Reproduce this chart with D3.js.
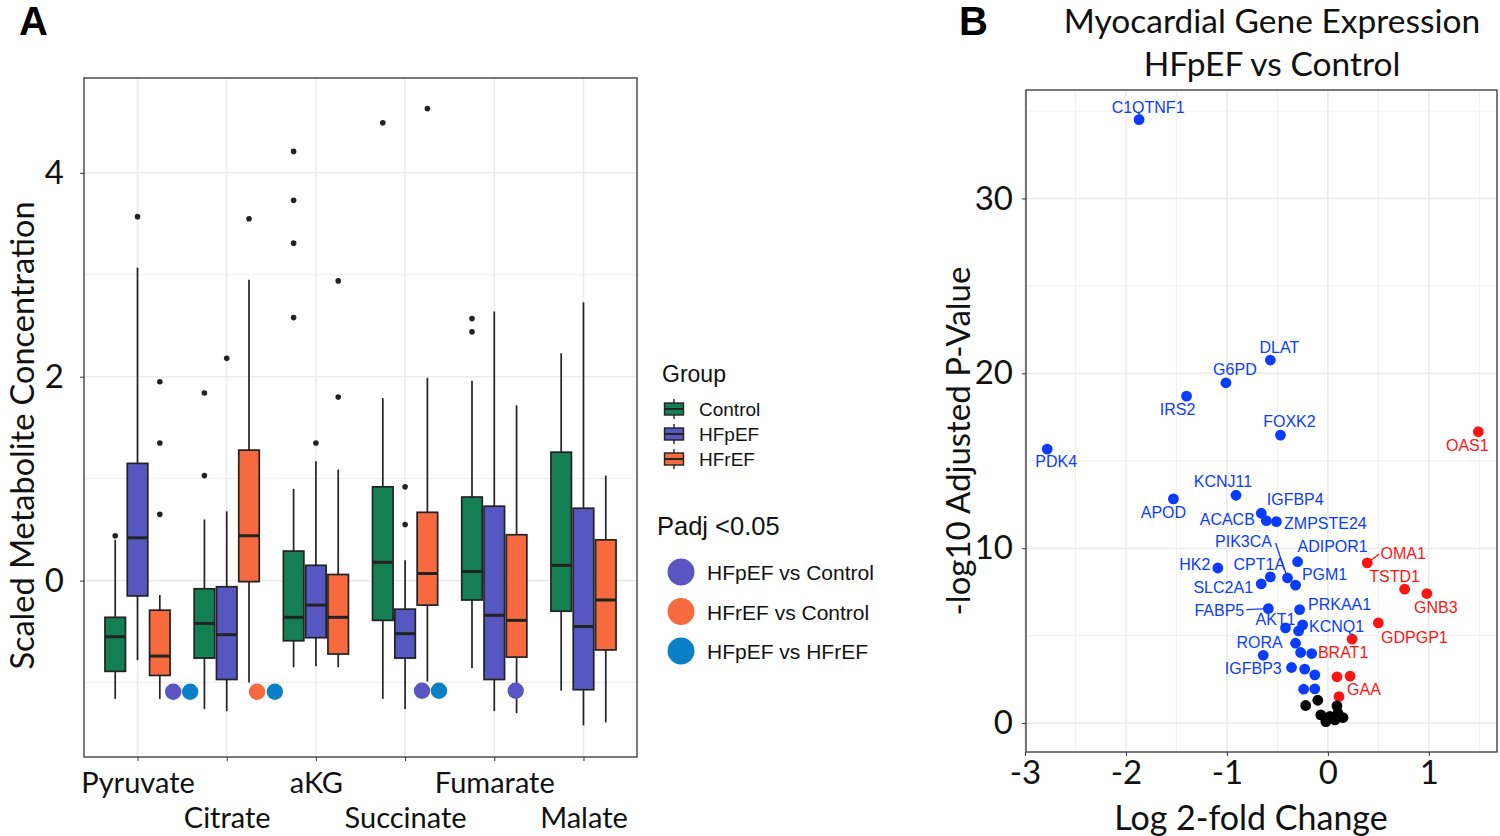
<!DOCTYPE html>
<html>
<head>
<meta charset="utf-8">
<script src="https://cdn.jsdelivr.net/npm/d3@7"></script>
<style>
  body { margin: 0; background: #fff; }
</style>
</head>
<body>
<svg id="fig" width="1500" height="836"></svg>
<script>
// ---- panel A data: scaled metabolite concentration ----
const metabolites = ['Pyruvate', 'Citrate', 'aKG', 'Succinate', 'Fumarate', 'Malate'];
const groups = ['Control', 'HFpEF', 'HFrEF'];
const groupColors = ['#137f52', '#5757c1', '#f76a40'];

// [lower whisker, q1, median, q3, upper whisker], one row per metabolite
const controlStats = [
	[-1.16, -0.89, -0.55, -0.36, 0.40],
	[-1.26, -0.76, -0.42, -0.08, 0.60],
	[-0.85, -0.59, -0.36, 0.29, 0.90],
	[-1.16, -0.39, 0.18, 0.92, 1.79],
	[-0.86, -0.19, 0.09, 0.82, 1.96],
	[-1.08, -0.30, 0.15, 1.26, 2.23],
];
const hfpefStats = [
	[-0.78, -0.15, 0.42, 1.15, 3.07],
	[-1.28, -0.97, -0.53, -0.06, 0.68],
	[-0.84, -0.56, -0.24, 0.15, 1.17],
	[-1.26, -0.76, -0.52, -0.28, 0.20],
	[-1.28, -0.97, -0.34, 0.73, 2.64],
	[-1.42, -1.07, -0.45, 0.71, 2.73],
];
const hfrefStats = [
	[-1.16, -0.93, -0.74, -0.29, -0.14],
	[-1.00, -0.01, 0.44, 1.28, 2.95],
	[-0.85, -0.72, -0.36, 0.06, 1.09],
	[-0.99, -0.24, 0.07, 0.67, 1.99],
	[-1.30, -0.75, -0.39, 0.45, 1.72],
	[-1.39, -0.68, -0.19, 0.40, 1.03],
];
const controlOutliers = [[0.44], [1.03, 1.84], [2.58, 3.31, 3.73, 4.21], [4.49], [2.44, 2.57], []];
const hfpefOutliers = [[3.57], [2.18], [1.35], [0.55, 0.92], [], []];
const hfrefOutliers = [[0.65, 1.35, 1.95], [3.55], [1.80, 2.94], [4.63], [], []];

const comparisons = ['HFpEF vs Control', 'HFrEF vs Control', 'HFpEF vs HFrEF'];
const comparisonColors = ['#5a55c3', '#f76a40', '#0a80c8'];
// significant comparisons: [metabolite, comparison, x position in category units, value]
const sigMarks = [
	['Pyruvate', 'HFpEF vs Control', 0.40, -1.09],
	['Pyruvate', 'HFpEF vs HFrEF', 0.59, -1.09],
	['Citrate', 'HFrEF vs Control', 0.34, -1.09],
	['Citrate', 'HFpEF vs HFrEF', 0.54, -1.09],
	['Succinate', 'HFpEF vs Control', 0.19, -1.08],
	['Succinate', 'HFpEF vs HFrEF', 0.38, -1.08],
	['Fumarate', 'HFpEF vs Control', 0.24, -1.08],
];
const yTicksA = [0, 2, 4];

// ---- panel B data: volcano plot ----
// [gene, log2 fold change, -log10 adjusted p, status]
const genes = [
	['C1QTNF1', -1.87, 34.51, 'down'],
	['DLAT', -0.57, 20.76, 'down'],
	['G6PD', -1.01, 19.46, 'down'],
	['IRS2', -1.40, 18.70, 'down'],
	['FOXK2', -0.47, 16.47, 'down'],
	['OAS1', 1.49, 16.66, 'up'],
	['PDK4', -2.78, 15.67, 'down'],
	['KCNJ11', -0.91, 13.03, 'down'],
	['APOD', -1.53, 12.82, 'down'],
	['IGFBP4', -0.66, 12.00, 'down'],
	['ACACB', -0.61, 11.58, 'down'],
	['ZMPSTE24', -0.51, 11.52, 'down'],
	['ADIPOR1', -0.30, 9.23, 'down'],
	['OMA1', 0.39, 9.16, 'up'],
	['HK2', -1.09, 8.87, 'down'],
	['CPT1A', -0.57, 8.36, 'down'],
	['SLC2A1', -0.66, 7.96, 'down'],
	['PIK3CA', -0.40, 8.30, 'down'],
	['PGM1', -0.32, 7.89, 'down'],
	['TSTD1', 0.76, 7.66, 'up'],
	['GNB3', 0.98, 7.41, 'up'],
	['FABP5', -0.59, 6.55, 'down'],
	['PRKAA1', -0.28, 6.49, 'down'],
	['GDPGP1', 0.50, 5.73, 'up'],
	['AKT1', -0.42, 5.45, 'down'],
	['KCNQ1', -0.25, 5.62, 'down'],
	['', -0.29, 5.27, 'down'],
	['BRAT1', 0.24, 4.80, 'up'],
	['RORA', -0.32, 4.57, 'down'],
	['', -0.27, 4.04, 'down'],
	['', -0.16, 3.98, 'down'],
	['IGFBP3', -0.64, 3.88, 'down'],
	['', -0.36, 3.18, 'down'],
	['', -0.23, 3.09, 'down'],
	['', -0.13, 2.76, 'down'],
	['', 0.09, 2.65, 'up'],
	['', 0.22, 2.69, 'up'],
	['', -0.24, 1.94, 'down'],
	['', -0.13, 1.96, 'down'],
	['GAA', 0.11, 1.52, 'up'],
	['', -0.10, 1.31, 'ns'],
	['', -0.22, 1.01, 'ns'],
	['', 0.09, 0.99, 'ns'],
	['', -0.07, 0.47, 'ns'],
	['', 0.02, 0.38, 'ns'],
	['', -0.02, 0.09, 'ns'],
	['', 0.07, 0.19, 'ns'],
	['', 0.12, 0.34, 'ns'],
	['', 0.15, 0.32, 'ns'],
	['', 0.10, 0.57, 'ns'],
];
const xTicksB = [-3, -2, -1, 0, 1];
const yTicksB = [0, 10, 20, 30];
const statusColors = { down: '#0a3cff', up: '#ff1414', ns: '#000000' };

// label placement (text centre / baseline offset in px from the point)
const labelOffsets = {
	C1QTNF1: [9, -7], DLAT: [9, -7], G6PD: [9, -8], IRS2: [-9, 19], FOXK2: [9, -8],
	OAS1: [-11, 19], PDK4: [9, 18], KCNJ11: [-13, -8], APOD: [-10, 19], IGFBP4: [34, -8],
	ACACB: [-39, 4], ZMPSTE24: [49, 7], PIK3CA: [-44, -31], ADIPOR1: [35, -10], OMA1: [36, -4],
	HK2: [-23, 2], CPT1A: [-11, -7], SLC2A1: [-38, 9], PGM1: [29, -5], TSTD1: [-10, -7],
	GNB3: [9, 19], FABP5: [-49, 7], PRKAA1: [40, 0], AKT1: [-10, -3], KCNQ1: [34, 7],
	BRAT1: [-9, 19], GDPGP1: [36, 20], RORA: [-36, 5], IGFBP3: [-10, 19], GAA: [25, -2],
};
const labelSegments = { PIK3CA: [-12, -35], FABP5: [-22, 1], OMA1: [12, -9] };

const calibri = 'Lato, "Open Sans", sans-serif';
const arial = '"Liberation Sans", Arial, sans-serif';
const gridColor = '#ebebeb';
const ink = '#222';

const svg = d3.select('#fig');

// panel letters
svg.append('text').attr('x', 19).attr('y', 35).text('A')
	.style('font-family', arial).style('font-weight', 'bold').style('font-size', '40px');
svg.append('text').attr('x', 959).attr('y', 35).text('B')
	.style('font-family', arial).style('font-weight', 'bold').style('font-size', '40px');

// ================= panel A =================
const A = { left: 84, right: 637, top: 78, bottom: 757 };
const xA = d3.scalePoint().domain(metabolites).range([A.left, A.right]).padding(0.6);
const step = xA.step();
const xCat = d3.scaleLinear().domain([0, 1]).range([xA(metabolites[0]), xA(metabolites[0]) + step]);
const dodge = d3.scaleBand().domain(groups).range([-0.375 * step, 0.375 * step]);
const yA = d3.scaleLinear().domain([-1.73, 4.93]).range([A.bottom, A.top]);

const gA = svg.append('g');

// grid
[-1, 1, 3].forEach(v => {
	gA.append('line').attr('x1', A.left).attr('x2', A.right).attr('y1', yA(v)).attr('y2', yA(v))
		.attr('stroke', gridColor).attr('stroke-width', 0.8);
});
yTicksA.forEach(v => {
	gA.append('line').attr('x1', A.left).attr('x2', A.right).attr('y1', yA(v)).attr('y2', yA(v))
		.attr('stroke', gridColor).attr('stroke-width', 1.6);
});
metabolites.forEach(m => {
	gA.append('line').attr('x1', xA(m)).attr('x2', xA(m)).attr('y1', A.top).attr('y2', A.bottom)
		.attr('stroke', gridColor).attr('stroke-width', 1.6);
});

const statsByGroup = [controlStats, hfpefStats, hfrefStats];
const outliersByGroup = [controlOutliers, hfpefOutliers, hfrefOutliers];
const boxW = dodge.bandwidth() * 0.92;

const boxes = [];
groups.forEach((g, gi) => {
	metabolites.forEach((m, mi) => {
		const s = statsByGroup[gi][mi];
		boxes.push({ group: g, gi, metabolite: m, lo: s[0], q1: s[1], med: s[2], q3: s[3], hi: s[4], out: outliersByGroup[gi][mi] });
	});
});

const box = gA.selectAll('.box').data(boxes).enter().append('g').attr('class', 'box')
	.attr('transform', d => `translate(${xA(d.metabolite) + dodge(d.group) + dodge.bandwidth() / 2},0)`);

box.append('line').attr('x1', 0).attr('x2', 0).attr('y1', d => yA(d.hi)).attr('y2', d => yA(d.q3))
	.attr('stroke', ink).attr('stroke-width', 1.7);
box.append('line').attr('x1', 0).attr('x2', 0).attr('y1', d => yA(d.q1)).attr('y2', d => yA(d.lo))
	.attr('stroke', ink).attr('stroke-width', 1.7);
box.append('rect').attr('x', -boxW / 2).attr('width', boxW)
	.attr('y', d => yA(d.q3)).attr('height', d => yA(d.q1) - yA(d.q3))
	.attr('fill', d => groupColors[d.gi]).attr('stroke', ink).attr('stroke-width', 1.7);
box.append('line').attr('x1', -boxW / 2).attr('x2', boxW / 2).attr('y1', d => yA(d.med)).attr('y2', d => yA(d.med))
	.attr('stroke', ink).attr('stroke-width', 3);
box.selectAll('.out').data(d => d.out).enter().append('circle').attr('class', 'out')
	.attr('cx', 0).attr('cy', v => yA(v)).attr('r', 2.8).attr('fill', ink);

// significance markers
gA.selectAll('.sig').data(sigMarks).enter().append('circle').attr('class', 'sig')
	.attr('cx', d => xCat(metabolites.indexOf(d[0]) + d[2]))
	.attr('cy', d => yA(d[3]))
	.attr('r', 8.2)
	.attr('fill', d => comparisonColors[comparisons.indexOf(d[1])]);

// frame
gA.append('rect').attr('x', A.left).attr('y', A.top).attr('width', A.right - A.left).attr('height', A.bottom - A.top)
	.attr('fill', 'none').attr('stroke', '#333').attr('stroke-width', 1.3);

// axes
const yAxisA = gA.append('g').attr('transform', `translate(${A.left},0)`)
	.call(d3.axisLeft(yA).tickValues(yTicksA).tickSize(4).tickPadding(16).tickFormat(d => String(d)));
yAxisA.select('.domain').remove();
yAxisA.selectAll('line').attr('stroke', '#333');
yAxisA.selectAll('text').style('font-family', calibri).style('font-size', '33px').attr('fill', '#111');

const xAxisA = gA.append('g').attr('transform', `translate(0,${A.bottom})`)
	.call(d3.axisBottom(xA).tickSize(4).tickPadding(0));
xAxisA.select('.domain').remove();
xAxisA.selectAll('line').attr('stroke', '#333');
xAxisA.selectAll('text')
	.attr('dy', null)
	.attr('y', (d, i) => (i % 2 === 0 ? 36 : 71))
	.style('font-family', calibri).style('font-size', '29px').attr('fill', '#111');

svg.append('text').attr('transform', `translate(34,${(A.top + A.bottom) / 2 + 18}) rotate(-90)`)
	.attr('text-anchor', 'middle').text('Scaled Metabolite Concentration')
	.style('font-family', calibri).style('font-size', '32.5px').attr('fill', '#111');

// legend: group
const legG = svg.append('g').attr('transform', 'translate(662,0)');
legG.append('text').attr('x', 0).attr('y', 382).text('Group')
	.style('font-family', arial).style('font-size', '23px').attr('fill', '#111');
groups.forEach((g, i) => {
	const cy = 409 + i * 25;
	const k = legG.append('g').attr('transform', `translate(12,${cy})`);
	k.append('line').attr('x1', 0).attr('x2', 0).attr('y1', -10).attr('y2', 10).attr('stroke', ink).attr('stroke-width', 1.4);
	k.append('rect').attr('x', -9.5).attr('y', -6).attr('width', 19).attr('height', 12)
		.attr('fill', groupColors[i]).attr('stroke', ink).attr('stroke-width', 1.4);
	k.append('line').attr('x1', -9.5).attr('x2', 9.5).attr('y1', 0).attr('y2', 0).attr('stroke', ink).attr('stroke-width', 2);
	legG.append('text').attr('x', 37).attr('y', cy + 7).text(g)
		.style('font-family', arial).style('font-size', '19px').attr('fill', '#111');
});

// legend: significance
const legP = svg.append('g');
legP.append('text').attr('x', 657).attr('y', 535).text('Padj <0.05')
	.style('font-family', arial).style('font-size', '25.5px').attr('fill', '#111');
comparisons.forEach((c, i) => {
	const cy = 572 + i * 39.5;
	legP.append('circle').attr('cx', 681).attr('cy', cy).attr('r', 13.5).attr('fill', comparisonColors[i]);
	legP.append('text').attr('x', 707).attr('y', cy + 8).text(c)
		.style('font-family', arial).style('font-size', '21px').attr('fill', '#111');
});

// ================= panel B =================
const B = { left: 1026, right: 1497, top: 90, bottom: 752 };
const xB = d3.scaleLinear().domain([-2.99, 1.675]).range([B.left, B.right]);
const yB = d3.scaleLinear().domain([-1.65, 36.2]).range([B.bottom, B.top]);
const gB = svg.append('g');

[-2.5, -1.5, -0.5, 0.5, 1.5].forEach(v => {
	gB.append('line').attr('x1', xB(v)).attr('x2', xB(v)).attr('y1', B.top).attr('y2', B.bottom)
		.attr('stroke', gridColor).attr('stroke-width', 0.8);
});
[5, 15, 25, 35].forEach(v => {
	gB.append('line').attr('x1', B.left).attr('x2', B.right).attr('y1', yB(v)).attr('y2', yB(v))
		.attr('stroke', gridColor).attr('stroke-width', 0.8);
});
xTicksB.forEach(v => {
	gB.append('line').attr('x1', xB(v)).attr('x2', xB(v)).attr('y1', B.top).attr('y2', B.bottom)
		.attr('stroke', gridColor).attr('stroke-width', 1.6);
});
yTicksB.forEach(v => {
	gB.append('line').attr('x1', B.left).attr('x2', B.right).attr('y1', yB(v)).attr('y2', yB(v))
		.attr('stroke', gridColor).attr('stroke-width', 1.6);
});

const pts = genes.map(d => ({ gene: d[0], fc: d[1], p: d[2], status: d[3] }));

gB.selectAll('.pt').data(pts).enter().append('circle').attr('class', 'pt')
	.attr('cx', d => xB(d.fc)).attr('cy', d => yB(d.p)).attr('r', 5.4)
	.attr('fill', d => statusColors[d.status]);

const labelled = pts.filter(d => d.gene !== '');
gB.selectAll('.seg').data(labelled.filter(d => labelSegments[d.gene])).enter().append('line').attr('class', 'seg')
	.attr('x1', d => xB(d.fc)).attr('y1', d => yB(d.p))
	.attr('x2', d => xB(d.fc) + labelSegments[d.gene][0]).attr('y2', d => yB(d.p) + labelSegments[d.gene][1])
	.attr('stroke', d => statusColors[d.status]).attr('stroke-width', 1.3);
gB.selectAll('.lab').data(labelled).enter().append('text').attr('class', 'lab')
	.attr('x', d => xB(d.fc) + labelOffsets[d.gene][0])
	.attr('y', d => yB(d.p) + labelOffsets[d.gene][1])
	.attr('text-anchor', 'middle')
	.text(d => d.gene)
	.style('font-family', arial).style('font-size', '16px')
	.attr('fill', d => statusColors[d.status]);

gB.append('rect').attr('x', B.left).attr('y', B.top).attr('width', B.right - B.left).attr('height', B.bottom - B.top)
	.attr('fill', 'none').attr('stroke', '#333').attr('stroke-width', 1.3);

const yAxisB = gB.append('g').attr('transform', `translate(${B.left},0)`)
	.call(d3.axisLeft(yB).tickValues(yTicksB).tickSize(4).tickPadding(9).tickFormat(d => String(d)));
yAxisB.select('.domain').remove();
yAxisB.selectAll('line').attr('stroke', '#333');
yAxisB.selectAll('text').style('font-family', calibri).style('font-size', '33px').attr('fill', '#111');

const xAxisB = gB.append('g').attr('transform', `translate(0,${B.bottom})`)
	.call(d3.axisBottom(xB).tickValues(xTicksB).tickSize(4).tickPadding(5).tickFormat(d => String(d)));
xAxisB.select('.domain').remove();
xAxisB.selectAll('line').attr('stroke', '#333');
xAxisB.selectAll('text').style('font-family', calibri).style('font-size', '33px').attr('fill', '#111');

svg.append('text').attr('x', 1251).attr('y', 830).attr('text-anchor', 'middle')
	.text('Log 2-fold Change').style('font-family', calibri).style('font-size', '34px').attr('fill', '#111');
svg.append('text').attr('transform', `translate(970,441) rotate(-90)`).attr('text-anchor', 'middle')
	.text('-log10 Adjusted P-Value').style('font-family', calibri).style('font-size', '33px').attr('fill', '#111');

svg.append('text').attr('x', 1272).attr('y', 33).attr('text-anchor', 'middle').text('Myocardial Gene Expression')
	.style('font-family', calibri).style('font-size', '33.5px').attr('fill', '#111');
svg.append('text').attr('x', 1272).attr('y', 76).attr('text-anchor', 'middle').text('HFpEF vs Control')
	.style('font-family', calibri).style('font-size', '33.5px').attr('fill', '#111');
</script>
</body>
</html>
